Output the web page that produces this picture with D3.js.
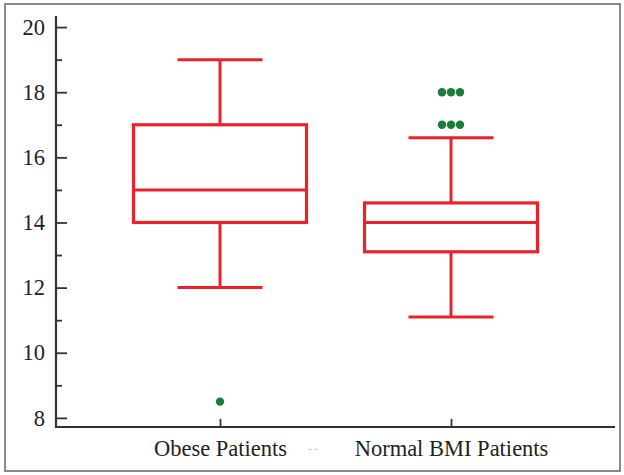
<!DOCTYPE html>
<html>
<head>
<meta charset="utf-8">
<script src="https://cdn.jsdelivr.net/npm/d3@7"></script>
<style>
  body { margin: 0; background: #fff; }
</style>
</head>
<body>
<svg id="chart" width="624" height="475"></svg>
<script>
// groups and box stats
var groups = ["Obese Patients", "Normal BMI Patients"];
var whiskerLow = [12.0, 11.1];
var q1 = [14.0, 13.1];
var median = [15.0, 14.0];
var q3 = [17.0, 14.6];
var whiskerHigh = [19.0, 16.6];
var outliers = [[8.5], [18, 18, 18, 17, 17, 17]];
var yTicks = [8, 10, 12, 14, 16, 18, 20];
var yMinor = [9, 11, 13, 15, 17, 19];

(function(d3) {
  var svg = d3.select("#chart");
  var serif = "'Liberation Serif', 'Times New Roman', Times, serif";

  // frame around the figure
  svg.append("rect")
    .attr("x", 5).attr("y", 4)
    .attr("width", 615).attr("height", 467)
    .attr("fill", "none")
    .attr("stroke", "#8a8a8a")
    .attr("stroke-width", 2);

  var margin = {left: 56, right: 615, top: 16, bottom: 427};

  var x = d3.scalePoint().domain(groups).range([margin.left, margin.right]).padding(0.71);
  var y = d3.scaleLinear().domain([7.72, 20.34]).range([margin.bottom, margin.top]);

  // y axis: major ticks pointing inward, labels outside
  var yAxis = svg.append("g")
    .attr("transform", "translate(" + margin.left + ",0)")
    .call(d3.axisLeft(y).tickValues(yTicks).tickSizeInner(-11).tickSizeOuter(0).tickPadding(11));
  yAxis.select(".domain").remove();
  yAxis.selectAll(".tick line").attr("stroke", "#333").attr("stroke-width", 1.8);
  yAxis.selectAll(".tick text")
    .attr("fill", "#222")
    .style("font-family", serif)
    .style("font-size", "22.5px");

  var yMinorAxis = svg.append("g")
    .attr("transform", "translate(" + margin.left + ",0)")
    .call(d3.axisLeft(y).tickValues(yMinor).tickSizeInner(-6).tickSizeOuter(0).tickFormat(""));
  yMinorAxis.select(".domain").remove();
  yMinorAxis.selectAll(".tick line").attr("stroke", "#333").attr("stroke-width", 1.8);

  // x axis
  var xAxis = svg.append("g")
    .attr("transform", "translate(0," + margin.bottom + ")")
    .call(d3.axisBottom(x).tickSizeInner(-8).tickSizeOuter(0).tickPadding(13));
  xAxis.select(".domain").remove();
  xAxis.selectAll(".tick line").attr("stroke", "#333").attr("stroke-width", 1.8);
  xAxis.selectAll(".tick text")
    .attr("fill", "#222")
    .style("font-family", serif)
    .style("font-size", "22.5px");

  // axis lines
  svg.append("line")
    .attr("x1", margin.left).attr("x2", margin.left)
    .attr("y1", margin.top).attr("y2", margin.bottom + 1)
    .attr("stroke", "#333").attr("stroke-width", 2.2);
  svg.append("line")
    .attr("x1", margin.left - 1).attr("x2", margin.right)
    .attr("y1", margin.bottom).attr("y2", margin.bottom)
    .attr("stroke", "#333").attr("stroke-width", 2.2);

  // stray dashes between the labels
  svg.append("text")
    .attr("x", 313).attr("y", 452)
    .attr("text-anchor", "middle")
    .attr("fill", "#bbb")
    .style("font-family", serif)
    .style("font-size", "11px")
    .text("- -");

  var red = "#e8232b", green = "#1a7d3a";
  var boxHalf = 86.5, capHalf = 42.5;

  var box = svg.selectAll(".box")
    .data(groups)
    .enter().append("g")
    .attr("class", "box")
    .attr("transform", function(d) { return "translate(" + x(d) + ",0)"; });

  box.append("line")
    .attr("x1", 0).attr("x2", 0)
    .attr("y1", function(d, i) { return y(whiskerHigh[i]); })
    .attr("y2", function(d, i) { return y(q3[i]); })
    .attr("stroke", red).attr("stroke-width", 3);
  box.append("line")
    .attr("x1", 0).attr("x2", 0)
    .attr("y1", function(d, i) { return y(q1[i]); })
    .attr("y2", function(d, i) { return y(whiskerLow[i]); })
    .attr("stroke", red).attr("stroke-width", 3);
  box.append("line")
    .attr("x1", -capHalf).attr("x2", capHalf)
    .attr("y1", function(d, i) { return y(whiskerHigh[i]); })
    .attr("y2", function(d, i) { return y(whiskerHigh[i]); })
    .attr("stroke", red).attr("stroke-width", 3);
  box.append("line")
    .attr("x1", -capHalf).attr("x2", capHalf)
    .attr("y1", function(d, i) { return y(whiskerLow[i]); })
    .attr("y2", function(d, i) { return y(whiskerLow[i]); })
    .attr("stroke", red).attr("stroke-width", 3);
  box.append("rect")
    .attr("x", -boxHalf)
    .attr("width", boxHalf * 2)
    .attr("y", function(d, i) { return y(q3[i]); })
    .attr("height", function(d, i) { return y(q1[i]) - y(q3[i]); })
    .attr("fill", "none")
    .attr("stroke", red).attr("stroke-width", 3.2);
  box.append("line")
    .attr("x1", -boxHalf).attr("x2", boxHalf)
    .attr("y1", function(d, i) { return y(median[i]); })
    .attr("y2", function(d, i) { return y(median[i]); })
    .attr("stroke", red).attr("stroke-width", 3);

  // outliers, equal values spread side by side
  box.each(function(d, i) {
    var vals = outliers[i];
    var counts = {};
    vals.forEach(function(v) { counts[v] = (counts[v] || 0) + 1; });
    var seen = {};
    d3.select(this).selectAll("circle")
      .data(vals)
      .enter().append("circle")
      .attr("cx", function(v) {
        var k = seen[v] = (seen[v] === undefined ? 0 : seen[v] + 1);
        return (k - (counts[v] - 1) / 2) * 9;
      })
      .attr("cy", function(v) { return y(v); })
      .attr("r", 4.2)
      .attr("fill", green);
  });
})(window.d3);
</script>
</body>
</html>
